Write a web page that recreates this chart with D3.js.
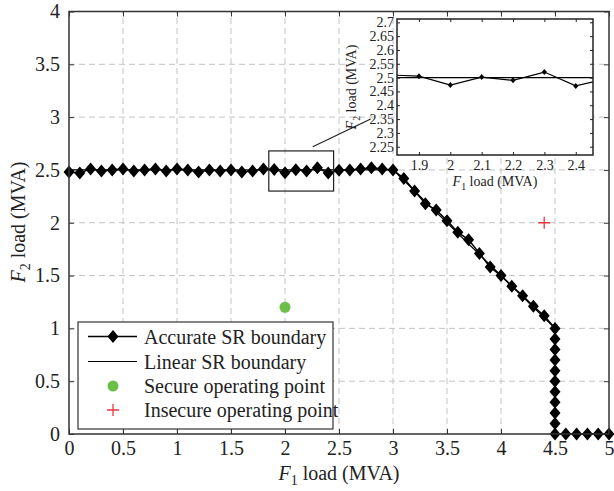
<html>
<head>
<meta charset="utf-8">
<title>SR boundary</title>
<script src="https://d3js.org/d3.v7.min.js"></script>
<style>
body { margin: 0; background: #fff; }
svg text { font-family: 'Liberation Serif', 'Times New Roman', 'DejaVu Serif', serif !important; fill: #222; }
</style>
</head>
<body>
<div id="chart"></div>
<script type="text/javascript">

// accurate SR boundary (F1, F2) in MVA
var f1Accurate = [0, 0.1, 0.2, 0.3, 0.4, 0.5, 0.6, 0.7, 0.8, 0.9, 1.0, 1.1, 1.2, 1.3, 1.4, 1.5, 1.6, 1.7, 1.8, 1.9,
                  2.0, 2.1, 2.2, 2.3, 2.4, 2.5, 2.6, 2.7, 2.8, 2.9, 3.0,
                  3.1, 3.2, 3.3, 3.4, 3.5, 3.6, 3.7, 3.8, 3.9, 4.0, 4.1, 4.2, 4.3, 4.4, 4.5,
                  4.5, 4.5, 4.5, 4.5, 4.5, 4.5, 4.5, 4.5, 4.5, 4.5,
                  4.6, 4.7, 4.8, 4.9, 5.0];
var f2Accurate = [2.48, 2.47, 2.51, 2.49, 2.50, 2.51, 2.49, 2.50, 2.51, 2.49, 2.51, 2.50, 2.48, 2.50, 2.49, 2.50, 2.48, 2.49, 2.51, 2.505,
                  2.473, 2.502, 2.49, 2.52, 2.47, 2.496, 2.50, 2.51, 2.52, 2.51, 2.50,
                  2.42, 2.30, 2.18, 2.12, 2.02, 1.91, 1.84, 1.71, 1.58, 1.50, 1.40, 1.31, 1.21, 1.12, 1.0,
                  0.9, 0.8, 0.7, 0.6, 0.5, 0.4, 0.3, 0.2, 0.1, 0.0,
                  0.0, 0.0, 0.0, 0.0, 0.0];

// linear SR boundary
var f1Linear = [0, 3.0, 4.5, 4.5, 5.0];
var f2Linear = [2.5, 2.5, 1.0, 0.0, 0.0];

// operating points
var securePoint = [2.0, 1.2];
var insecurePoint = [4.4, 2.0];

// tick values
var xTicks = [0, 0.5, 1, 1.5, 2, 2.5, 3, 3.5, 4, 4.5, 5];
var yTicks = [0, 0.5, 1, 1.5, 2, 2.5, 3, 3.5, 4];
var insetXTicks = [1.9, 2.0, 2.1, 2.2, 2.3, 2.4];
var insetYTicks = [2.25, 2.3, 2.35, 2.4, 2.45, 2.5, 2.55, 2.6, 2.65, 2.7];

var legendLabels = ["Accurate SR boundary", "Linear SR boundary", "Secure operating point", "Insecure operating point"];

var W = 614, H = 491;
var serif = "'Liberation Serif', 'Times New Roman', 'DejaVu Serif', serif";
var svg = d3.select("#chart").append("svg").attr("width", W).attr("height", H);

var x = d3.scaleLinear().domain([0, 5]).range([69, 609]);
var y = d3.scaleLinear().domain([0, 4]).range([434, 11.5]);

var accurate = f1Accurate.map(function(d, i) { return [d, f2Accurate[i]]; });
var linear = f1Linear.map(function(d, i) { return [d, f2Linear[i]]; });

function diamond(w, h) {
    return "M0," + (-h) + "L" + w + ",0L0," + h + "L" + (-w) + ",0Z";
}

function subLabel(g, base, sub, rest, size) {
    var t = g.append("text").attr("font-size", size).attr("font-family", serif);
    t.append("tspan").attr("font-style", "italic").text(base);
    t.append("tspan").attr("font-size", size * 0.7).attr("dy", size * 0.25).text(sub);
    t.append("tspan").attr("dy", -size * 0.25).text(" " + rest);
    return t;
}

// grid
var grid = svg.append("g");
grid.selectAll(".gx").data(xTicks.slice(1, -1)).enter().append("line")
    .attr("x1", function(d) { return x(d); }).attr("x2", function(d) { return x(d); })
    .attr("y1", y(0)).attr("y2", y(4))
    .attr("stroke", "#c4c4c4").attr("stroke-dasharray", "6,4");
grid.selectAll(".gy").data(yTicks.slice(1, -1)).enter().append("line")
    .attr("y1", function(d) { return y(d); }).attr("y2", function(d) { return y(d); })
    .attr("x1", x(0)).attr("x2", x(5))
    .attr("stroke", "#c4c4c4").attr("stroke-dasharray", "6,4");

// axes (ticks inward, box on)
function clean(g) {
    g.select(".domain").remove();
    g.attr("font-family", serif);
    g.selectAll("line").attr("stroke", "#333");
}
svg.append("g").attr("transform", "translate(0," + y(0) + ")")
    .call(d3.axisBottom(x).tickValues(xTicks).tickSize(-5).tickPadding(7).tickFormat(d3.format("")))
    .call(clean);
svg.append("g").attr("transform", "translate(" + x(0) + ",0)")
    .call(d3.axisLeft(y).tickValues(yTicks).tickSize(-5).tickPadding(9).tickFormat(d3.format("")))
    .call(clean);
svg.append("g").attr("transform", "translate(0," + y(4) + ")")
    .call(d3.axisTop(x).tickValues(xTicks).tickSize(-5).tickFormat(""))
    .call(clean);
svg.append("g").attr("transform", "translate(" + x(5) + ",0)")
    .call(d3.axisRight(y).tickValues(yTicks).tickSize(-5).tickFormat(""))
    .call(clean);
svg.selectAll(".tick text").attr("font-size", 20).attr("fill", "#222").attr("font-family", serif);

// data lines
var line = d3.line().x(function(d) { return x(d[0]); }).y(function(d) { return y(d[1]); });
svg.append("path").datum(linear).attr("d", line).attr("fill", "none").attr("stroke", "#000").attr("stroke-width", 1.2);
svg.append("path").datum(accurate).attr("d", line).attr("fill", "none").attr("stroke", "#000").attr("stroke-width", 1.5);
svg.selectAll(".dia").data(accurate).enter().append("path")
    .attr("d", diamond(5.5, 6.5))
    .attr("transform", function(d) { return "translate(" + x(d[0]) + "," + y(d[1]) + ")"; })
    .attr("fill", "#000");

// operating points
svg.append("circle").attr("cx", x(securePoint[0])).attr("cy", y(securePoint[1])).attr("r", 5.5).attr("fill", "#6cbf46");
svg.append("path").attr("d", "M-6,0H6M0,-6V6")
    .attr("transform", "translate(" + x(insecurePoint[0]) + "," + y(insecurePoint[1]) + ")")
    .attr("stroke", "#e8383d").attr("stroke-width", 1.3);

// frame
svg.append("rect").attr("x", x(0)).attr("y", y(4)).attr("width", x(5) - x(0)).attr("height", y(0) - y(4))
    .attr("fill", "none").attr("stroke", "#333").attr("stroke-width", 1.5);

// zoom rectangle and pointer
svg.append("rect").attr("x", x(1.85)).attr("y", y(2.68)).attr("width", x(2.45) - x(1.85)).attr("height", y(2.30) - y(2.68))
    .attr("fill", "none").attr("stroke", "#222").attr("stroke-width", 1.2);
svg.append("line").attr("x1", 312.7).attr("y1", 146.7).attr("x2", 370.7).attr("y2", 119)
    .attr("stroke", "#222").attr("stroke-width", 1.2);

// inset
var xi = d3.scaleLinear().domain([1.83, 2.455]).range([397, 593]);
var yi = d3.scaleLinear().domain([2.22, 2.712]).range([155, 19]);
var inset = svg.append("g");
inset.append("rect").attr("x", 397).attr("y", 19).attr("width", 196).attr("height", 136).attr("fill", "#fff");
var clip = svg.append("clipPath").attr("id", "insetclip");
clip.append("rect").attr("x", 397).attr("y", 19).attr("width", 196).attr("height", 136);
var lineI = d3.line().x(function(d) { return xi(d[0]); }).y(function(d) { return yi(d[1]); });
var ig = inset.append("g").attr("clip-path", "url(#insetclip)");
ig.append("path").datum(linear).attr("d", lineI).attr("fill", "none").attr("stroke", "#000").attr("stroke-width", 1.2);
ig.append("path").datum(accurate).attr("d", lineI).attr("fill", "none").attr("stroke", "#000").attr("stroke-width", 1.2);
ig.selectAll(".idia").data(accurate.filter(function(d) { return d[0] > 1.8 && d[0] < 2.5; })).enter().append("path")
    .attr("d", diamond(2.6, 3))
    .attr("transform", function(d) { return "translate(" + xi(d[0]) + "," + yi(d[1]) + ")"; })
    .attr("fill", "#000");

inset.append("g").attr("transform", "translate(0,155)")
    .call(d3.axisBottom(xi).tickValues(insetXTicks).tickSize(-3).tickPadding(5).tickFormat(d3.format("")));
inset.append("g").attr("transform", "translate(397,0)")
    .call(d3.axisLeft(yi).tickValues(insetYTicks).tickSize(-3).tickPadding(3).tickFormat(d3.format("")));
inset.append("g").attr("transform", "translate(0,19)")
    .call(d3.axisTop(xi).tickValues(insetXTicks).tickSize(-3).tickFormat(""));
inset.append("g").attr("transform", "translate(593,0)")
    .call(d3.axisRight(yi).tickValues(insetYTicks).tickSize(-3).tickFormat(""));
inset.selectAll(".domain").remove();
inset.selectAll(".tick line").attr("stroke", "#222");
inset.selectAll(".tick text").attr("font-size", 14).attr("fill", "#222").attr("font-family", serif);
inset.append("rect").attr("x", 397).attr("y", 19).attr("width", 196).attr("height", 136)
    .attr("fill", "none").attr("stroke", "#222").attr("stroke-width", 1.5);

subLabel(inset, "F", "1", "load (MVA)", 14).attr("x", 495).attr("y", 186).attr("text-anchor", "middle");
subLabel(inset, "F", "2", "load (MVA)", 14).attr("text-anchor", "middle")
    .attr("transform", "translate(356,87) rotate(-90)");

// axis titles
subLabel(svg, "F", "1", "load (MVA)", 20).attr("x", 339).attr("y", 480).attr("text-anchor", "middle");
subLabel(svg, "F", "2", "load (MVA)", 20).attr("text-anchor", "middle")
    .attr("transform", "translate(25,222) rotate(-90)");

// legend
var lg = svg.append("g");
lg.append("rect").attr("x", 78).attr("y", 322).attr("width", 255).attr("height", 107)
    .attr("fill", "#fff").attr("stroke", "#333").attr("stroke-width", 1.2);
var rowY = [336.5, 361.5, 386, 410];
lg.append("line").attr("x1", 88).attr("x2", 137).attr("y1", rowY[0]).attr("y2", rowY[0]).attr("stroke", "#000").attr("stroke-width", 1.5);
lg.append("path").attr("d", diamond(5.5, 6.5)).attr("transform", "translate(113," + rowY[0] + ")").attr("fill", "#000");
lg.append("line").attr("x1", 88).attr("x2", 137).attr("y1", rowY[1]).attr("y2", rowY[1]).attr("stroke", "#000").attr("stroke-width", 1.2);
lg.append("circle").attr("cx", 113).attr("cy", rowY[2]).attr("r", 5.5).attr("fill", "#6cbf46");
lg.append("path").attr("d", "M-6,0H6M0,-6V6").attr("transform", "translate(113," + rowY[3] + ")")
    .attr("stroke", "#e8383d").attr("stroke-width", 1.3);
lg.selectAll(".lt").data(legendLabels).enter().append("text")
    .attr("x", 144).attr("y", function(d, i) { return rowY[i] + 7; })
    .attr("font-size", 20).attr("font-family", serif).text(function(d) { return d; });

</script>
</body>
</html>
